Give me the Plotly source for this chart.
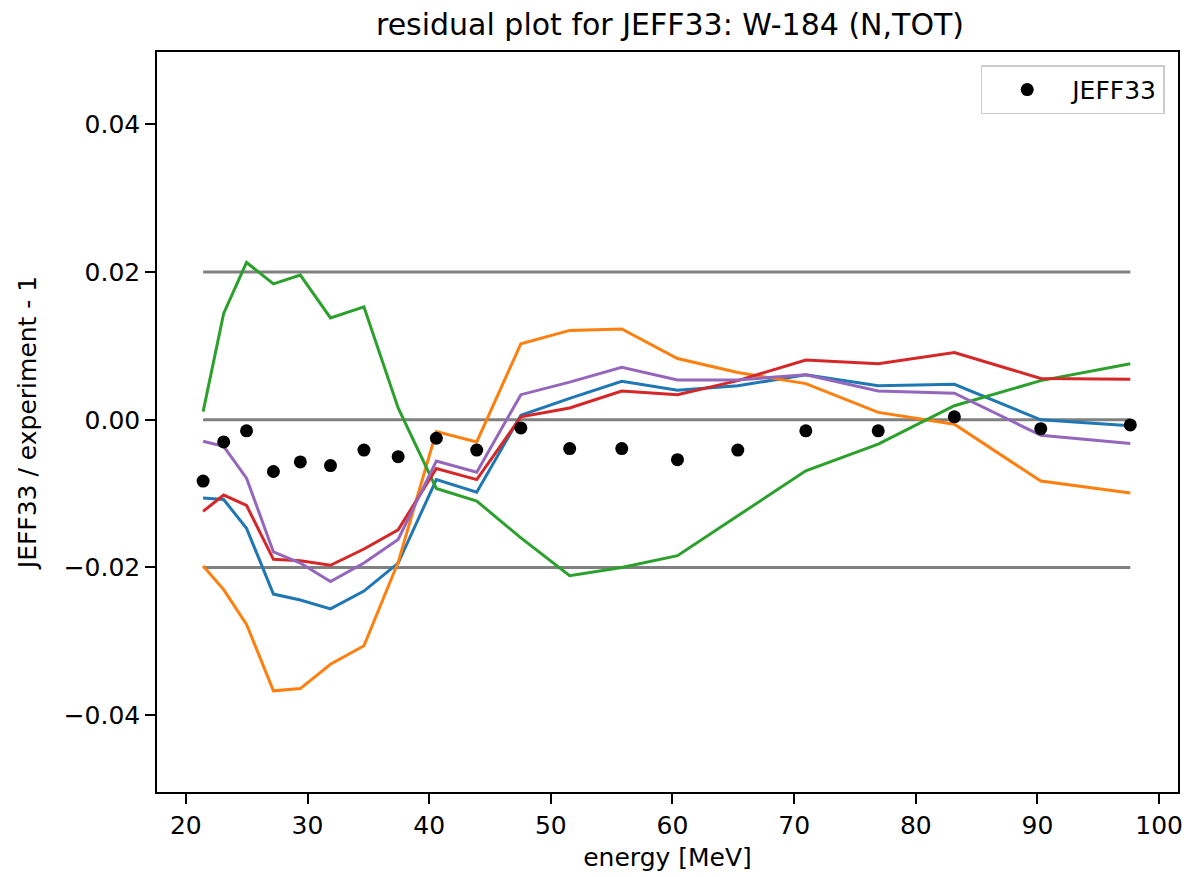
import plotly.graph_objects as go

# energies (MeV) shared by the points and the model curves
energy = [21.42, 23.11, 24.99, 27.20, 29.41, 31.89, 34.64, 37.45, 40.59, 43.91,
          47.54, 51.55, 55.83, 60.41, 65.37, 70.96, 76.91, 83.17, 90.27, 97.63]

jeff33 = [-0.0083, -0.0030, -0.0015, -0.0070, -0.0057, -0.0062, -0.0041, -0.0050,
          -0.0025, -0.0041, -0.0011, -0.0039, -0.0039, -0.0054, -0.0041, -0.0015,
          -0.0015, 0.0004, -0.0012, -0.0007]

curve_blue = [-0.0106, -0.0108, -0.0147, -0.0236, -0.0244, -0.0256, -0.0232, -0.0194,
              -0.0081, -0.0098, 0.0006, 0.0029, 0.0052, 0.0040, 0.0046, 0.0061,
              0.0046, 0.0048, 0.0000, -0.0008]
curve_orange = [-0.0198, -0.0230, -0.0277, -0.0367, -0.0364, -0.0331, -0.0306, -0.0193,
                -0.0016, -0.0030, 0.0103, 0.0121, 0.0123, 0.0083, 0.0064, 0.0049,
                0.0010, -0.0006, -0.0083, -0.0099]
curve_green = [0.0011, 0.0144, 0.0213, 0.0184, 0.0196, 0.0138, 0.0153, 0.0016,
               -0.0093, -0.0110, -0.0160, -0.0211, -0.0200, -0.0184, -0.0130, -0.0069,
               -0.0033, 0.0019, 0.0053, 0.0076]
curve_red = [-0.0124, -0.0102, -0.0116, -0.0189, -0.0191, -0.0197, -0.0175, -0.0149,
             -0.0066, -0.0081, 0.0004, 0.0016, 0.0039, 0.0034, 0.0053, 0.0081,
             0.0076, 0.0091, 0.0056, 0.0055]
curve_purple = [-0.0029, -0.0036, -0.0079, -0.0179, -0.0194, -0.0219, -0.0194, -0.0162,
                -0.0056, -0.0071, 0.0034, 0.0051, 0.0071, 0.0054, 0.0054, 0.0061,
                0.0039, 0.0036, -0.0021, -0.0032]

bands = [-0.02, 0.0, 0.02]

curves = [
    (curve_blue, '#1f77b4'),
    (curve_orange, '#ff7f0e'),
    (curve_green, '#2ca02c'),
    (curve_red, '#d62728'),
    (curve_purple, '#9467bd'),
]

fig = go.Figure()

for level in bands:
    fig.add_trace(go.Scatter(
        x=[energy[0], energy[-1]], y=[level, level],
        mode='lines', line=dict(color='#808080', width=3),
        showlegend=False, hoverinfo='skip'
    ))

for ys, color in curves:
    fig.add_trace(go.Scatter(
        x=energy, y=ys, mode='lines',
        line=dict(color=color, width=3),
        showlegend=False
    ))

fig.add_trace(go.Scatter(
    x=energy, y=jeff33, mode='markers', name='JEFF33',
    marker=dict(color='black', size=13)
))

axis_font = dict(family='DejaVu Sans', size=25, color='black')

# page body has an 8px margin, so shift everything up/left by 8px
W, H = 1185, 869
fig.update_layout(
    width=W, height=H,
    paper_bgcolor='white', plot_bgcolor='white',
    margin=dict(l=149, r=W - 1175, t=44, b=H - 784),
    font=dict(family='DejaVu Sans', size=25, color='black'),
    title=dict(
        text='residual plot for JEFF33: W-184 (N,TOT)',
        x=(670 - 8) / W, xanchor='center', y=1 - 16 / H, yanchor='middle',
        font=dict(family='DejaVu Sans', size=30, color='black')
    ),
    xaxis=dict(
        range=[17.63, 101.55], tickvals=[20, 30, 40, 50, 60, 70, 80, 90, 100],
        showgrid=False, zeroline=False,
        showline=True, linecolor='black', linewidth=1.5, mirror=True,
        ticks='outside', ticklen=10, tickwidth=1.5, tickcolor='black',
        tickfont=axis_font,
        title=dict(text='energy [MeV]', font=axis_font, standoff=10)
    ),
    yaxis=dict(
        range=[-0.0504, 0.0498], tickvals=[-0.04, -0.02, 0.0, 0.02, 0.04],
        tickformat='.2f',
        showgrid=False, zeroline=False,
        showline=True, linecolor='black', linewidth=1.5, mirror=True,
        ticks='outside', ticklen=10, tickwidth=1.5, tickcolor='black',
        tickfont=axis_font,
        title=dict(text='JEFF33 / experiment - 1', font=axis_font, standoff=20)
    ),
    legend=dict(
        x=0.987, xanchor='right', y=0.982, yanchor='top',
        bordercolor='#cccccc', borderwidth=1.5, bgcolor='white',
        itemwidth=80,
        font=dict(family='DejaVu Sans', size=25, color='black')
    ),
    showlegend=True
)

fig.write_html("out.html")
